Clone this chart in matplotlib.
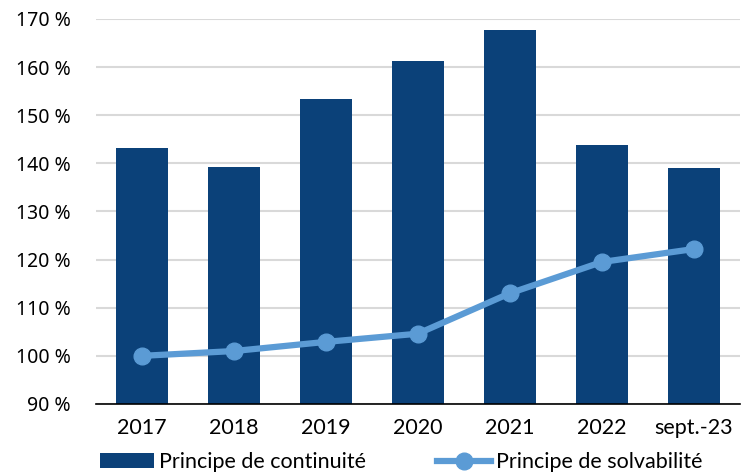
import matplotlib.pyplot as plt
import numpy as np

plt.rcParams['font.family'] = ['Lato', 'DejaVu Sans']

annees = ['2017', '2018', '2019', '2020', '2021', '2022', 'sept.-23']
continuite = [143.2, 139.3, 153.3, 161.3, 167.7, 143.8, 139.0]
solvabilite = [100.0, 101.0, 102.9, 104.6, 113.0, 119.5, 122.2]
ticks_y = [90, 100, 110, 120, 130, 140, 150, 160, 170]

fig = plt.figure(figsize=(7.42, 4.75), dpi=100)
ax = fig.add_axes([0.129, 0.1495, 0.868, 0.8105])

x = np.arange(len(annees))
barres = ax.bar(x, continuite, width=0.565, color='#0B4179', zorder=2,
                label='Principe de continuité')
ligne, = ax.plot(x, solvabilite, color='#5B9BD5', linewidth=4.5, marker='o',
                 markersize=12, zorder=3, label='Principe de solvabilité')

ax.set_ylim(90, 170)
ax.set_xlim(-0.5, len(annees) - 0.5)
ax.set_yticks(ticks_y)
ax.set_yticklabels([f'{v} %' for v in ticks_y], family=['Noto Sans', 'DejaVu Sans'], fontsize=14)
ax.set_xticks(x)
ax.set_xticklabels(annees, fontsize=15.5)
ax.tick_params(axis='both', length=0, colors='black')
ax.tick_params(axis='x', pad=10)
ax.tick_params(axis='y', pad=18)

ax.grid(axis='y', color='#D9D9D9', linewidth=1.5, zorder=0)
for s in ['top', 'right', 'left']:
    ax.spines[s].set_visible(False)
ax.spines['bottom'].set_color('black')
ax.spines['bottom'].set_linewidth(1.2)
ax.spines['bottom'].set_zorder(4)

fig.legend(handles=[barres, ligne], loc='lower left', bbox_to_anchor=(0.123, -0.012), ncol=2,
           frameon=False, fontsize=15.5, handlelength=2.5, handletextpad=0.25,
           columnspacing=3.3, borderaxespad=0)

fig.savefig('out.png', dpi=100)
